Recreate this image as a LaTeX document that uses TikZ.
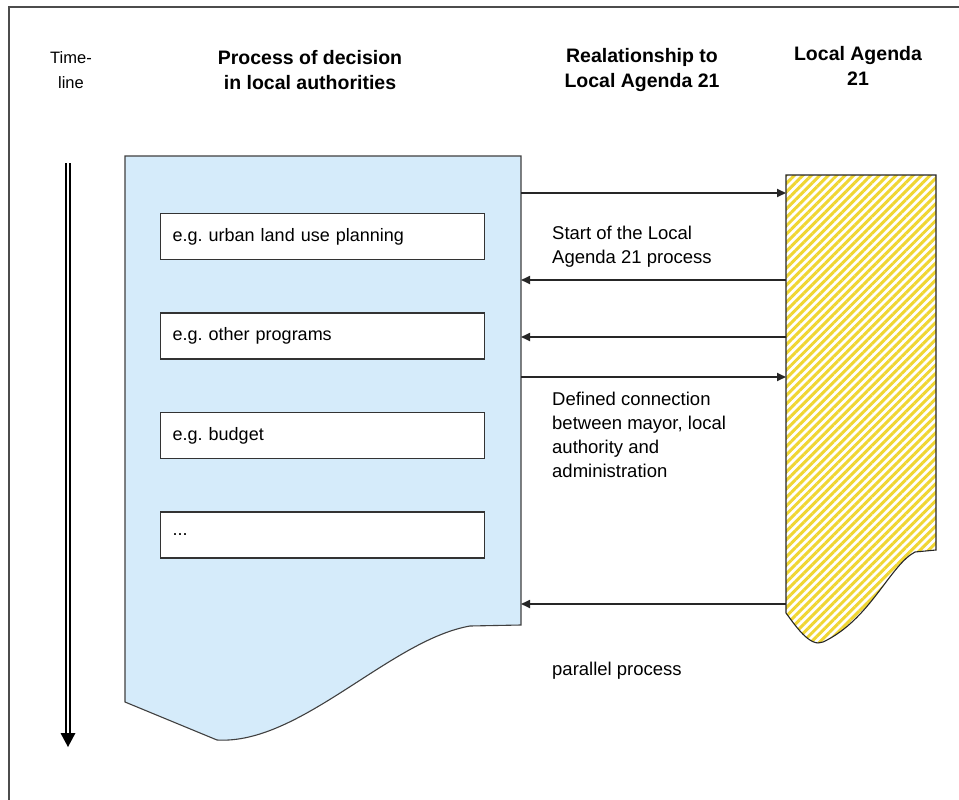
\documentclass[tikz,border=0pt]{standalone}
\usepackage{fontspec}
\setmainfont{Liberation Sans}
\usetikzlibrary{arrows.meta, patterns.meta, positioning}
\definecolor{procblue}{RGB}{213,235,250}
\definecolor{agendayellow}{RGB}{240,214,50}
\frenchspacing
\tikzset{
    procbox/.style={draw=black!80, fill=white, line width=1.4pt, rectangle,
        minimum width=324pt, minimum height=46pt, text width=300pt, inner xsep=12pt,
        align=left, font=\fontsize{18}{20}\selectfont},
    relarrow/.style={line width=1.7pt, draw=black!85, -{Triangle[length=9pt,width=8pt]}},
    head/.style={align=center, font=\bfseries\fontsize{19.5}{25}\selectfont},
    note/.style={align=left, anchor=north west, inner sep=0pt, font=\fontsize{18.5}{24}\selectfont}
}

\begin{document}
\begin{tikzpicture}[x=1pt, y=-1pt]
    \useasboundingbox (0,0) rectangle (959,800);
    \fill[white] (0,0) rectangle (959,800);
    \draw[black!70, line width=1.5pt] (9,800) -- (9,7) -- (959,7);

    % headers
    \node[align=center, font=\fontsize{16.5}{25}\selectfont] (htime) at (71,70) {Time-\\line};
    \node[head] (hproc) at (310,70) {Process of decision\\in local authorities};
    \node[head] (hrel) at (642,70) {Realationship to\\Local Agenda 21};
    \node[head] (hagenda) at (858,66) {Local Agenda\\21};

    % time line
    \coordinate (t0) at (68,163);
    \coordinate (t1) at (68,733);
    \coordinate (tip) at (68,747);
    \draw[black, double=white, double distance=2.6pt, line width=1.6pt] (t0) -- (t1);
    \fill[black] (60.5,733) -- (75.5,733) -- (tip) -- cycle;

    % process of decision
    \draw[fill=procblue, draw=black!75, line width=1.1pt] (125,156) -- (521,156) -- (521,625) -- (470,626)
        .. controls (390,640) and (300,745) .. (217,740) -- (125,702) -- cycle;
    \node[procbox, anchor=north west] (urban) at (160,213) {e.g. urban land use planning};
    \node[procbox, below=52pt of urban] (other) {e.g. other programs};
    \node[procbox, below=52pt of other] (budget) {e.g. budget};
    \node[procbox, below=52pt of budget] (more) {...};

    % local agenda 21
    \fill[white] (786,175) -- (936,175) -- (936,550) -- (915,552)
        .. controls (890,565) and (870,620) .. (823,642)
        .. controls (810,648) and (795,625) .. (786,613) -- cycle;
    \path[pattern={Lines[angle=45, distance=6pt, line width=3pt]}, pattern color=agendayellow]
        (786,175) -- (936,175) -- (936,550) -- (915,552)
        .. controls (890,565) and (870,620) .. (823,642)
        .. controls (810,648) and (795,625) .. (786,613) -- cycle;
    \draw[black!85, line width=1.1pt] (786,175) -- (936,175) -- (936,550) -- (915,552)
        .. controls (890,565) and (870,620) .. (823,642)
        .. controls (810,648) and (795,625) .. (786,613) -- cycle;

    % relationship arrows
    \coordinate (b1) at (521,193);
    \coordinate (a1) at (786,193);
    \coordinate (b2) at (521,280);
    \coordinate (a2) at (786,280);
    \coordinate (b3) at (521,337);
    \coordinate (a3) at (786,337);
    \coordinate (b4) at (521,377);
    \coordinate (a4) at (786,377);
    \coordinate (b5) at (521,604);
    \coordinate (a5) at (786,604);
    \draw[relarrow] (b1) -- (a1);
    \draw[relarrow] (a2) -- (b2);
    \draw[relarrow] (a3) -- (b3);
    \draw[relarrow] (b4) -- (a4);
    \draw[relarrow] (a5) -- (b5);

    \node[note] (start) at (552,226) {Start of the Local\\Agenda 21 process};
    \node[note] (defined) at (552,392) {Defined connection\\between mayor, local\\authority and\\administration};
    \node[note] (parallel) at (552,662) {parallel process};
\end{tikzpicture}
\end{document}
